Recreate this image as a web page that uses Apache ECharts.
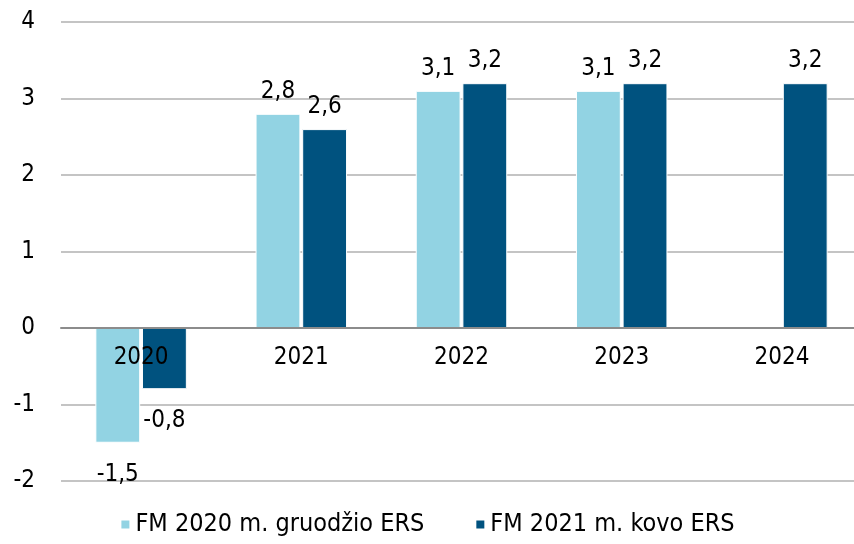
<!DOCTYPE html>
<html>
<head>
<meta charset="utf-8">
<script src="https://cdn.jsdelivr.net/npm/echarts@6/dist/echarts.min.js"></script>
<style>
  html, body { margin: 0; padding: 0; background: #fff; }
  #chart { width: 854px; height: 544px; }
</style>
</head>
<body>
<div id="chart"></div>
<script>
var years = ['2020', '2021', '2022', '2023', '2024'];
var fm2020 = [-1.5, 2.8, 3.1, 3.1, null];
var fm2021 = [-0.8, 2.6, 3.2, 3.2, 3.2];
var seriesNames = ['FM 2020 m. gruodžio ERS', 'FM 2021 m. kovo ERS'];

var font = '"DejaVu Sans Condensed", "DejaVu Sans", sans-serif';
var yMin = -2, yMax = 4;
var gridTop = 22, gridBottom = 63;

function fmt(p) {
    return String(p.value).replace('.', ',');
}

function labelFor(v) {
    return {
        show: true,
        position: v < 0 ? 'bottom' : 'top',
        distance: v < 0 ? 20 : 10,
        formatter: fmt,
        color: '#000',
        fontSize: 24,
        fontFamily: font
    };
}

function withLabels(arr) {
    return arr.map(function (v) {
        if (v === null) return null;
        return {value: v, label: labelFor(v)};
    });
}

// move the category axis (line + labels) up to the zero line
var plotH = 544 - gridTop - gridBottom;
var zeroOffset = -plotH * (0 - yMin) / (yMax - yMin);

var option = {
    animation: false,
    color: ['#92D3E3', '#00527F'],
    textStyle: {fontFamily: font},
    grid: {
        left: 61, right: -8, top: gridTop, bottom: gridBottom,
        containLabel: false,
        outerBoundsMode: 'none'
    },
    legend: {
        bottom: 2,
        left: 'center',
        itemWidth: 10,
        itemHeight: 10,
        itemGap: 50,
        icon: 'rect',
        textStyle: {fontSize: 25, color: '#000', fontFamily: font},
        data: seriesNames
    },
    xAxis: {
        type: 'category',
        data: years,
        z: 5,
        offset: zeroOffset,
        axisLine: {onZero: false, lineStyle: {color: '#8c8c8c', width: 2}},
        axisTick: {show: false},
        axisLabel: {color: '#000', fontSize: 24, fontFamily: font, margin: 18}
    },
    yAxis: {
        type: 'value',
        min: yMin,
        max: yMax,
        interval: 1,
        axisLine: {show: false},
        axisTick: {show: false},
        splitLine: {lineStyle: {color: '#c4c4c4', width: 2}},
        axisLabel: {margin: 26, color: '#000', fontSize: 24, fontFamily: font}
    },
    series: [
        {
            name: seriesNames[0],
            type: 'bar',
            barWidth: '28%',
            barGap: '4%',
            itemStyle: {borderColor: '#fff', borderWidth: 1},
            data: withLabels(fm2020)
        },
        {
            name: seriesNames[1],
            type: 'bar',
            barWidth: '28%',
            barGap: '4%',
            itemStyle: {borderColor: '#fff', borderWidth: 1},
            data: withLabels(fm2021)
        }
    ]
};

var chart = echarts.init(document.getElementById('chart'));
chart.setOption(option);
</script>
</body>
</html>
